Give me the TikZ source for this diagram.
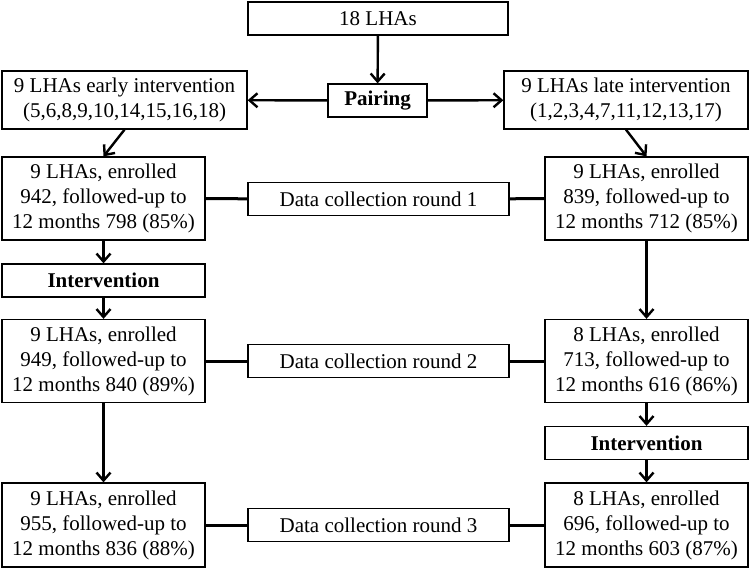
\documentclass[tikz,border=0pt]{standalone}
\usepackage{fontspec}
\setmainfont{Liberation Serif}
\usetikzlibrary{arrows.meta}
\begin{document}
\begin{tikzpicture}[x=1pt, y=-1pt, font=\fontsize{21}{25}\selectfont,
    box/.style={draw, line width=1.3pt, align=center, inner sep=0pt,
      minimum width=#1, minimum height=33pt},
    group/.style={box=#1, minimum height=83pt},
    arr/.style={-{Straight Barb[length=8pt,width=14pt]}, line width=2.4pt},
    link/.style={line width=3pt}]
  \useasboundingbox (0,0) rectangle (751,568);
  % randomisation
  \node[box=260pt] (lha) at (378,18.5) {18 LHAs};
  \node[box=99pt] (pair) at (377.5,100.5) {\textbf{Pairing}};
  \node[box=245pt, minimum height=58pt] (early) at (124.5,100)
    {9 LHAs early intervention\\(5,6,8,9,10,14,15,16,18)};
  \node[box=244pt, minimum height=58pt] (late) at (626,100)
    {9 LHAs late intervention\\(1,2,3,4,7,11,12,13,17)};
  % data collection rounds
  \node[group=203pt] (enrA1) at (103.5,198.5)
    {9 LHAs, enrolled\\942, followed-up to\\12 months 798 (85\%)};
  \node[group=203pt] (enrB1) at (646.5,198.5)
    {9 LHAs, enrolled\\839, followed-up to\\12 months 712 (85\%)};
  \node[box=261pt] (dc1) at (378.5,199) {Data collection round 1};
  \node[box=203pt] (intA) at (103.5,280.5) {\textbf{Intervention}};
  \node[group=203pt] (enrA2) at (103.5,361)
    {9 LHAs, enrolled\\949, followed-up to\\12 months 840 (89\%)};
  \node[group=203pt] (enrB2) at (646.5,361)
    {8 LHAs, enrolled\\713, followed-up to\\12 months 616 (86\%)};
  \node[box=261pt] (dc2) at (378.5,361) {Data collection round 2};
  \node[box=203pt] (intB) at (646.5,443) {\textbf{Intervention}};
  \node[group=203pt, minimum height=84pt] (enrA3) at (103.5,525)
    {9 LHAs, enrolled\\955, followed-up to\\12 months 836 (88\%)};
  \node[group=203pt, minimum height=84pt] (enrB3) at (646.5,525)
    {8 LHAs, enrolled\\696, followed-up to\\12 months 603 (87\%)};
  \node[box=261pt] (dc3) at (378.5,525) {Data collection round 3};
  % arrows
  \draw[arr] (lha) -- (pair);
  \draw[arr] (pair) -- (early);
  \draw[arr] (pair) -- (late);
  \draw[arr] (early.south) -- (enrA1.north);
  \draw[arr] (late.south) -- (enrB1.north);
  \draw[arr] (enrA1) -- (intA);
  \draw[arr] (intA) -- (enrA2);
  \draw[arr] (enrA2) -- (enrA3);
  \draw[arr] (enrB1) -- (enrB2);
  \draw[arr] (enrB2) -- (intB);
  \draw[arr] (intB) -- (enrB3);
  \foreach \r in {1,2,3} {
    \draw[link] (enrA\r) -- (dc\r);
    \draw[link] (dc\r) -- (enrB\r);
  }
\end{tikzpicture}
\end{document}
